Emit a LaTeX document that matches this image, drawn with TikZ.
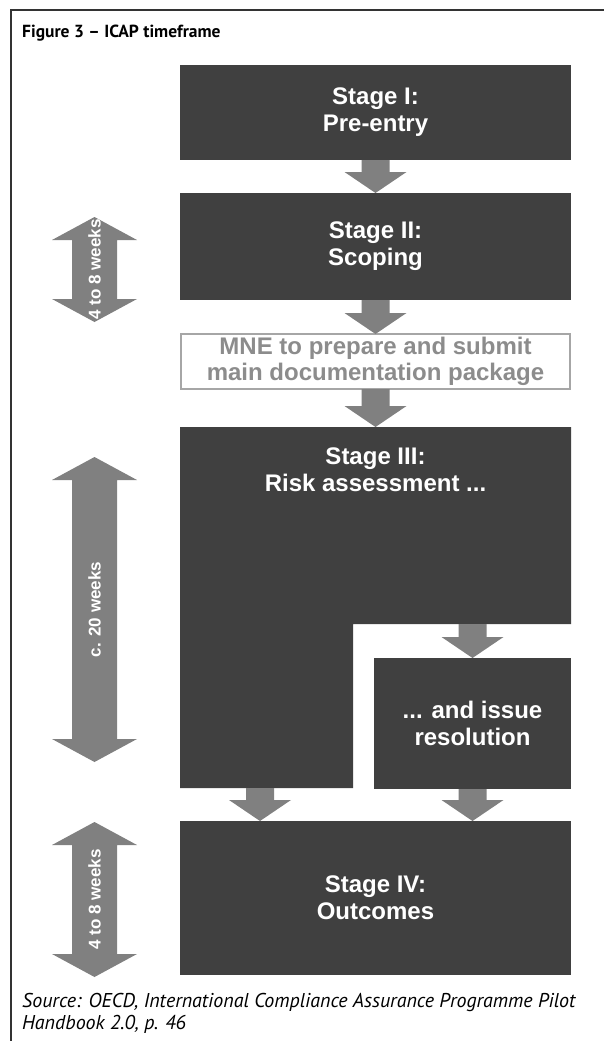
\documentclass[tikz,border=0pt]{standalone}
\usepackage{fontspec}
\setmainfont{Liberation Sans}
\newfontfamily\myriad{PT Sans}
\usetikzlibrary{calc}
\definecolor{boxdark}{HTML}{404040}
\definecolor{arrowgray}{HTML}{808080}
\definecolor{mnegray}{HTML}{8C8C8C}
\definecolor{mneborder}{HTML}{A6A6A6}
\definecolor{framegray}{HTML}{333333}
\newcommand\blockarrow[2]{%
  \fill[arrowgray] let \p1=(#1), \p2=(#2) in
    (\x1-14pt,\y1) -- (\x1+14pt,\y1) -- (\x1+14pt,\y2+21pt) -- (\x1+31pt,\y2+21pt)
    -- (\x1,\y2) -- (\x1-31pt,\y2+21pt) -- (\x1-14pt,\y2+21pt) -- cycle;}
\newcommand\dblarrow[3]{%
  \fill[arrowgray] (94.5,#1) -- (137,#1+23) -- (117,#1+23) -- (117,#2-23) -- (137,#2-23)
    -- (94.5,#2) -- (52,#2-23) -- (72,#2-23) -- (72,#1+23) -- (52,#1+23) -- cycle;
  \node[durtext] at (94.5,{(#1+#2)/2}) {#3};}
\begin{document}
\begin{tikzpicture}[x=1pt,y=-1pt,
  stagebox/.style={fill=boxdark, text=white, font=\fontsize{24}{27}\selectfont\bfseries,
    align=center, inner sep=0pt, outer sep=0pt, anchor=north west},
  stagetext/.style={text=white, font=\fontsize{24}{27}\selectfont\bfseries, align=center, inner sep=0pt},
  mnebox/.style={draw=mneborder, line width=2.5pt, fill=white, text=mnegray,
    font=\fontsize{24}{26}\selectfont\bfseries, align=center, inner sep=0pt, outer sep=0pt, anchor=north west},
  durtext/.style={rotate=90, text=white, font=\fontsize{17}{19}\selectfont\bfseries, inner sep=0pt}]
\useasboundingbox (0,0) rectangle (604,1041);
% frame
\draw[framegray, line width=1.2pt] (604,10) -- (11,10) -- (11,1041);
% title
\node[anchor=base west, inner sep=0pt, font=\myriad\bfseries\fontsize{17.5}{20}\selectfont] (title) at (22,38) {Figure 3 – ICAP timeframe};
% stage boxes
\node[stagebox, minimum width=391pt, minimum height=95pt] (s1) at (180,65) {Stage I:\\Pre-entry};
\node[stagebox, minimum width=391pt, minimum height=107pt] (s2) at (180,193) {Stage II:\\Scoping};
\node[mnebox, minimum width=389pt, minimum height=55pt] (mne) at (181,334) {MNE to prepare and submit\\main documentation package};
% stage III L-shape
\coordinate (l1) at (180,427);
\coordinate (l2) at (571,427);
\coordinate (l3) at (571,624);
\coordinate (l4) at (353,624);
\coordinate (l5) at (353,788);
\coordinate (l6) at (180,788);
\fill[boxdark] (l1) -- (l2) -- (l3) -- (l4) -- (l5) -- (l6) -- cycle;
\node[stagetext] (s3) at (375.5,470) {Stage III:\\Risk assessment ...};
\node[stagebox, minimum width=197pt, minimum height=131pt] (res) at (374,658) {... and issue\\resolution};
\node[stagebox, minimum width=391pt, minimum height=154pt] (s4) at (180,821) {Stage IV:\\Outcomes};
% block arrows
\blockarrow{s1.south}{s2.north}
\blockarrow{s2.south}{mne.north}
\blockarrow{mne.south}{l1 -| mne.north}
\coordinate (s3r) at (res.north |- l3);
\blockarrow{s3r}{res.north}
\coordinate (s3b) at (260,788);
\blockarrow{s3b}{s4.north}
\blockarrow{res.south}{s4.north}
% duration arrows
\dblarrow{217}{322}{4 to 8 weeks}
\dblarrow{457}{762}{c. 20 weeks}
\dblarrow{822}{977}{4 to 8 weeks}
% source
\node[anchor=north west, align=left, inner sep=0pt, font=\myriad\itshape\fontsize{20}{22}\selectfont] (src) at (22,993) {Source: OECD, International Compliance Assurance Programme Pilot\\Handbook 2.0, p. 46};
\end{tikzpicture}
\end{document}
